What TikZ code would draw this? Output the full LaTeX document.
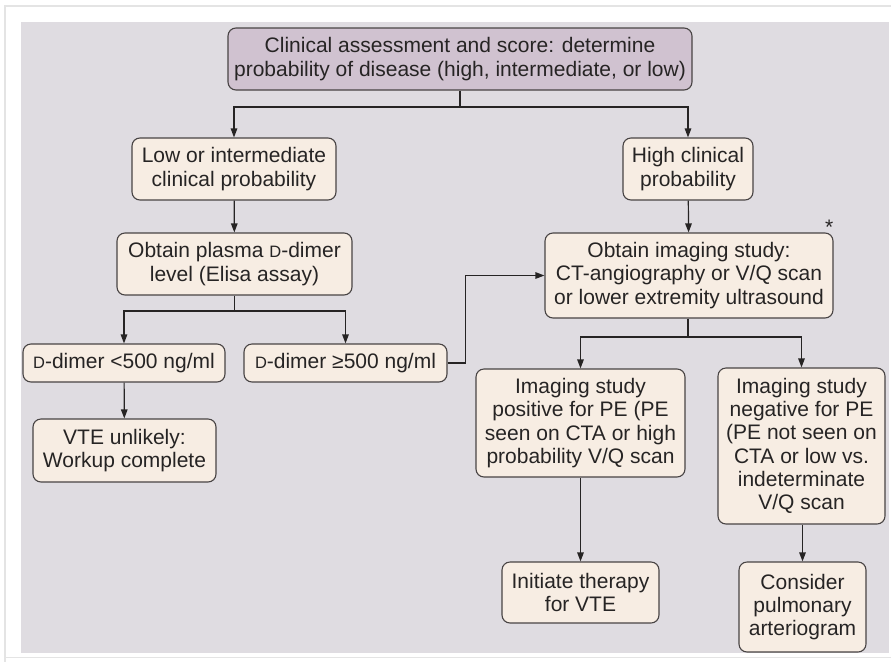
\documentclass[tikz,border=0pt]{standalone}
\usepackage{fontspec}
\setmainfont{Liberation Sans}
\usetikzlibrary{arrows.meta,positioning}
\definecolor{panel}{RGB}{223,220,225}
\definecolor{cream}{RGB}{247,237,227}
\definecolor{mauve}{RGB}{208,194,208}
\definecolor{edge}{RGB}{72,68,68}
\definecolor{ink}{RGB}{38,36,36}
\definecolor{framegray}{RGB}{228,228,228}
\newcommand{\scD}{{\fontsize{16.5}{16.5}\selectfont D}}

\begin{document}
\begin{tikzpicture}[
  x=1pt, y=-1pt,
  box/.style={
    draw=edge,
    line width=1.1pt,
    rounded corners=8pt,
    fill=cream,
    align=center,
    inner sep=0pt,
    text=ink,
    font=\fontsize{21}{23.3}\selectfont
  },
  link/.style={draw=ink,line width=1.2pt},
  arr/.style={link,-{Triangle[length=9pt,width=6.5pt]}}
]
\useasboundingbox (0,0) rectangle (891,662);
\fill[white] (0,0) rectangle (891,662);
\draw[framegray,line width=1.5pt] (891,6) -- (5,6) -- (5,662);
\draw[framegray,line width=1pt] (5,657) -- (891,657);
\fill[panel] (21,22) rectangle (889,653);

\node[box,fill=mauve,minimum width=464pt,minimum height=62pt]
  (assess) at (460,59)
  {Clinical assessment and score: determine\\
   probability of disease (high, intermediate, or low)};
\node[box,minimum width=204pt,minimum height=62pt]
  (lowint) at (234,169) {Low or intermediate\\clinical probability};
\node[box,minimum width=130pt,minimum height=62pt]
  (high) at (688,169) {High clinical\\probability};
\node[box,minimum width=235pt,minimum height=62pt]
  (ddimer) at (234.5,264) {Obtain plasma \scD-dimer\\level (Elisa assay)};
\node[box,minimum width=288pt,minimum height=85pt]
  (imaging) at (689,275.5)
  {Obtain imaging study:\\CT-angiography or V/Q scan\\or lower extremity ultrasound};
\node[font=\fontsize{21}{21}\selectfont,text=ink,above right=-6pt and -12pt of imaging.north east]
  (star) {*};
\node[box,minimum width=202pt,minimum height=38pt]
  (dlow) at (124,363) {\scD-dimer <500 ng/ml};
\node[box,minimum width=203pt,minimum height=38pt]
  (dhigh) at (345.5,363) {\scD-dimer ≥500 ng/ml};
\node[box,minimum width=183pt,minimum height=63pt]
  (unlikely) at (124.5,450.5) {VTE unlikely:\\Workup complete};
\node[box,minimum width=209pt,minimum height=108pt]
  (pos) at (580.5,423)
  {Imaging study\\positive for PE (PE\\seen on CTA or high\\probability V/Q scan};
\node[box,minimum width=167pt,minimum height=156pt]
  (neg) at (801.5,446)
  {Imaging study\\negative for PE\\(PE not seen on\\CTA or low vs.\\indeterminate\\V/Q scan};
\node[box,minimum width=157pt,minimum height=61pt]
  (therapy) at (580.5,592.5) {Initiate therapy\\for VTE};
\node[box,minimum width=127pt,minimum height=90pt]
  (arterio) at (802.5,607) {Consider\\pulmonary\\arteriogram};

\coordinate (fork1) at (460,107);
\coordinate (fork2) at (234.5,311);
\coordinate (fork3) at (688,337);

\draw[link] (assess.south) -- (fork1);
\draw[arr] (fork1) -| (lowint.north);
\draw[arr] (fork1) -| (high.north);
\draw[arr] (lowint) -- (ddimer);
\draw[arr] (high) -- (imaging);
\draw[link] (ddimer.south) -- (fork2);
\draw[arr] (fork2) -| (dlow.north);
\draw[arr] (fork2) -| (dhigh.north);
\draw[arr] (dlow) -- (unlikely);
\draw[arr] (dhigh.east) -- ++(18,0) |- (imaging.west);
\draw[link] (imaging.south -| fork3) -- (fork3);
\draw[arr] (fork3) -| (pos.north);
\draw[arr] (fork3) -| (neg.north);
\draw[arr] (pos) -- (therapy);
\draw[arr] (neg.south -| arterio.north) -- (arterio.north);
\end{tikzpicture}
\end{document}
